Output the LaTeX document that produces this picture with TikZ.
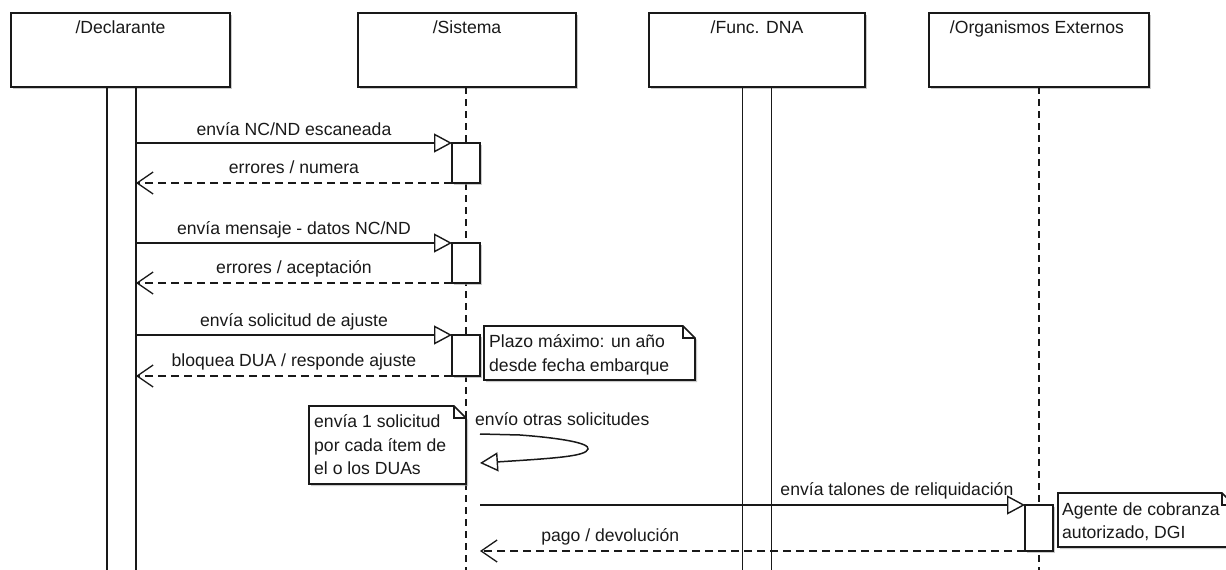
\documentclass[tikz,border=0pt]{standalone}
\usepackage{fontspec}
\setmainfont{Liberation Sans}
\usetikzlibrary{arrows.meta,shadows}

% UML note with folded corner: name, left, top, right, bottom
\newcommand\umlnote[5]{%
  \draw[notebox] (#2,#3) -- ({#4-12},#3) -- (#4,{#3+12}) -- (#4,#5) -- (#2,#5) -- cycle;
  \draw[notefold] ({#4-12},#3) -- ({#4-12},{#3+12}) -- (#4,{#3+12});
  \coordinate (#1) at (#2,#3);}

\begin{document}
\begin{tikzpicture}[x=1pt,y=-1pt,
  lbl/.style={font=\fontsize{17.6}{23.5}\selectfont, inner sep=0pt, text=black!90},
  boxshadow/.style={drop shadow={shadow xshift=2pt, shadow yshift=-2pt, fill=black!35, opacity=0.6}},
  lifebox/.style={draw=black!90, line width=2pt, fill=white, minimum height=74pt,
                  inner sep=0pt, outer sep=0pt, boxshadow},
  lifeline/.style={draw=black!90, line width=1.7pt, dash pattern=on 7pt off 5pt},
  execbar/.style={draw=black!90, line width=1.8pt, minimum width=29pt, inner sep=0pt, outer sep=0pt},
  actbox/.style={draw=black!90, line width=1.8pt, fill=white, minimum width=28pt,
                 inner sep=0pt, outer sep=0pt, anchor=north, boxshadow},
  sync/.style={draw=black!90, line width=1.5pt,
               -{Triangle[open, length=18pt, width=19pt, line width=1.4pt, fill=white]}},
  reply/.style={draw=black!90, line width=1.5pt, dash pattern=on 8pt off 5pt,
                -{Straight Barb[length=16pt, width=22pt, line width=1.3pt]}},
  notebox/.style={draw=black!90, line width=1.7pt, fill=white, boxshadow},
  notefold/.style={draw=black!90, line width=1.3pt},
  ntxt/.style={lbl, align=left, anchor=north west}
]
\useasboundingbox (0,0) rectangle (1226,570);
\coordinate (bot) at (0,580);

% lifeline heads
\node[lifebox, minimum width=219pt] (decl) at (120.5,50) {};
\node[lifebox, minimum width=218pt] (sist) at (467,50) {};
\node[lifebox, minimum width=216pt] (func) at (757,50) {};
\node[lifebox, minimum width=220pt] (orga) at (1039,50) {};
\node[lbl, anchor=base] (decl-t) at (120.5,33) {/Declarante};
\node[lbl, anchor=base] (sist-t) at (467,33) {/Sistema};
\node[lbl, anchor=base] (func-t) at (757,33) {/Func. DNA};
\node[lbl, anchor=base] (orga-t) at (1037,33) {/Organismos Externos};

% lifelines and execution bars
\coordinate (sist-l) at (466,87);
\coordinate (orga-l) at (1039,87);
\draw[lifeline] (sist-l) -- (sist-l |- bot);
\draw[lifeline] (orga-l) -- (orga-l |- bot);
\node[execbar, minimum height=495pt, anchor=north] (declbar) at (121.5,87) {};
\node[execbar, minimum height=495pt, anchor=north] (funcbar) at (757,87) {};

% activations
\node[actbox, minimum height=40pt] (a1) at (466,143) {};
\node[actbox, minimum height=40pt] (a2) at (466,243) {};
\node[actbox, minimum height=41pt] (a3) at (466,335) {};
\node[actbox, minimum height=46pt] (a4) at (1039,505) {};

% messages
\draw[sync] (declbar.east |- a1.north west) -- (a1.north west)
  node[lbl, midway, anchor=base, yshift=8pt] (m1) {envía NC/ND escaneada};
\draw[reply] (a1.south west) -- (declbar.east |- a1.south west)
  node[lbl, midway, anchor=base, yshift=10pt] (m2) {errores / numera};
\draw[sync] (declbar.east |- a2.north west) -- (a2.north west)
  node[lbl, midway, anchor=base, yshift=9pt] (m3) {envía mensaje - datos NC/ND};
\draw[reply] (a2.south west) -- (declbar.east |- a2.south west)
  node[lbl, midway, anchor=base, yshift=10pt] (m4) {errores / aceptación};
\draw[sync] (declbar.east |- a3.north west) -- (a3.north west)
  node[lbl, midway, anchor=base, yshift=9pt] (m5) {envía solicitud de ajuste};
\draw[reply] (a3.south west) -- (declbar.east |- a3.south west)
  node[lbl, midway, anchor=base, yshift=10pt] (m6) {bloquea DUA / responde ajuste};

% self message
\coordinate (self-a) at (480,434);
\coordinate (self-b) at (480,463);
\draw[sync] (self-a) -- (520,435) .. controls (560,438) and (590,443) .. (588,449)
  .. controls (586,456) and (560,458) .. (self-b);
\node[lbl, anchor=base west] (m7) at (475,425) {envío otras solicitudes};

% messages to external organisations
\coordinate (s5) at (480,505);
\draw[sync] (s5) -- (a4.north west)
  node[lbl, pos=0.765, anchor=base, yshift=10pt] (m8) {envía talones de reliquidación};
\draw[reply] (a4.south west) -- (s5 |- a4.south west)
  node[lbl, pos=0.761, anchor=base, yshift=10pt] (m9) {pago / devolución};

% notes
\umlnote{n1}{484}{326}{695}{380}
\node[ntxt] (n1t) at (489,334.5) {Plazo máximo: un año\\desde fecha embarque};
\umlnote{n2}{309}{406}{466}{484}
\node[ntxt] (n2t) at (314,414.5) {envía 1 solicitud\\por cada ítem de\\el o los DUAs};
\umlnote{n3}{1058}{493}{1234}{547}
\node[ntxt] (n3t) at (1062,502.5) {Agente de cobranza\\autorizado, DGI};
\end{tikzpicture}
\end{document}
